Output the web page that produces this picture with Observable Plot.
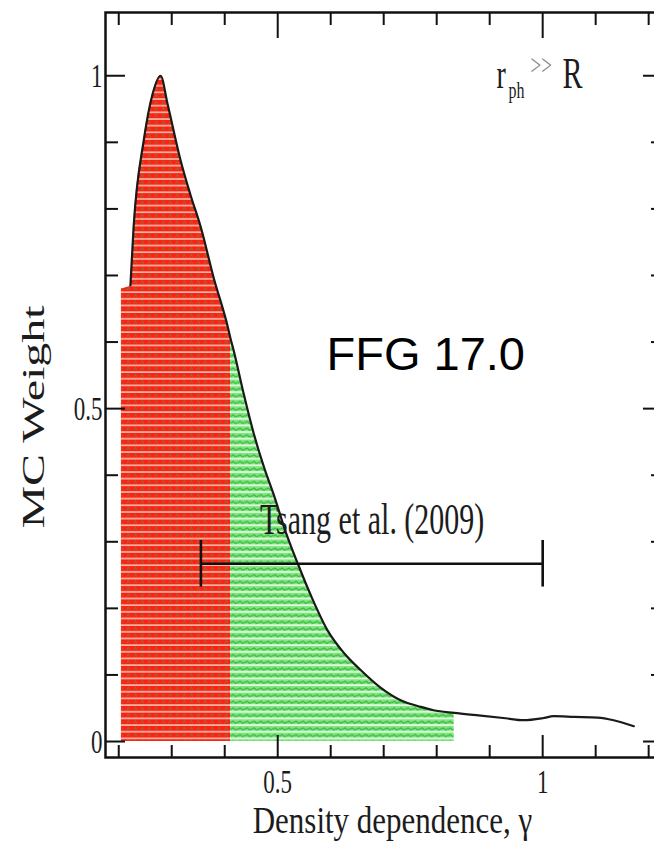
<!DOCTYPE html>
<html><head><meta charset="utf-8">
<script src="https://cdn.jsdelivr.net/npm/d3@7"></script>
<script src="https://cdn.jsdelivr.net/npm/@observablehq/plot@0.6"></script>
<style>html,body{margin:0;padding:0;background:#fff;} svg{display:block}</style>
</head><body><div id="chart"></div>
<script>
// Curve: MC weight vs density dependence gamma
const gammaValues  = [0.205, 0.222, 0.228, 0.247, 0.264, 0.279, 0.292, 0.317, 0.335, 0.355, 0.379, 0.406, 0.411, 0.417, 0.435, 0.455, 0.475, 0.492, 0.515, 0.538, 0.565, 0.594, 0.625, 0.657, 0.694, 0.732, 0.770, 0.794, 0.833, 0.883, 0.930, 0.964, 1.000, 1.021, 1.060, 1.104, 1.134, 1.172];
const weightValues = [0.680, 0.685, 0.772, 0.902, 0.973, 1.000, 0.958, 0.872, 0.822, 0.772, 0.697, 0.622, 0.605, 0.587, 0.525, 0.462, 0.410, 0.372, 0.315, 0.267, 0.215, 0.167, 0.133, 0.107, 0.081, 0.062, 0.052, 0.047, 0.043, 0.039, 0.035, 0.032, 0.035, 0.038, 0.037, 0.036, 0.032, 0.023];
const lineStart = 0.222;
const redEnd = 0.411;
const greenEnd = 0.833;

// Tsang et al. (2009) constraint
const tsangLabel = "Tsang et al. (2009)";
const tsangLow = 0.355;
const tsangHigh = 1.0;
const tsangWeight = 0.267;
const tsangCapHalf = 0.035;

// Axes
const xMajorTicks = [0.5, 1];
const xTickLabels = ["0.5", "1"];
const xMinorTicks = [0.2, 0.3, 0.4, 0.6, 0.7, 0.8, 0.9, 1.1, 1.2];
const yMajorTicks = [0, 0.5, 1];
const yTickLabels = ["0", "0.5", "1"];
const yMinorTicks = [0.1, 0.2, 0.3, 0.4, 0.6, 0.7, 0.8, 0.9];
const xTitle = "Density dependence, \u03b3";
const yTitle = "MC Weight";
const annotation = "FFG 17.0";

const curve = gammaValues.map((g, i) => ({g, w: weightValues[i]}));
const redData = curve.filter(d => d.g <= redEnd);
const greenData = curve.filter(d => d.g >= redEnd && d.g <= greenEnd);
const lineData = curve.filter(d => d.g >= lineStart);

const W = 558, H = 745;
const serif = {fontFamily: "Liberation Serif", fill: "#1c1c1c"};
const ink = "#111";

const svg = Plot.plot({
  width: 654, height: 846,
  marginLeft: 105, marginRight: -9, marginTop: 12, marginBottom: 89,
  x: {domain: [0.175, 1.228], axis: null},
  y: {domain: [-0.024, 1.095], axis: null},
  style: {background: "white", fontFamily: "Liberation Serif"},
  marks: [
    Plot.areaY(redData, {x: "g", y: "w", fill: "url(#redHatch)", curve: "monotone-x"}),
    Plot.areaY(greenData, {x: "g", y: "w", fill: "url(#greenHatch)", curve: "monotone-x"}),
    // ticks (inward)
    Plot.ruleX(xMinorTicks, {insetTop: H - 12, stroke: ink, strokeWidth: 2}),
    Plot.ruleX(xMajorTicks, {insetTop: H - 22, stroke: ink, strokeWidth: 2}),
    Plot.ruleX(xMinorTicks, {insetBottom: H - 13, stroke: ink, strokeWidth: 2}),
    Plot.ruleX(xMajorTicks, {insetBottom: H - 26, stroke: ink, strokeWidth: 2}),
    Plot.ruleY(yMinorTicks, {insetRight: W - 13, stroke: ink, strokeWidth: 2}),
    Plot.ruleY(yMajorTicks, {insetRight: W - 20, stroke: ink, strokeWidth: 2}),
    Plot.ruleY(yMinorTicks, {insetLeft: W - 12, stroke: ink, strokeWidth: 2}),
    Plot.ruleY(yMajorTicks, {insetLeft: W - 20, stroke: ink, strokeWidth: 2}),
    Plot.frame({stroke: ink, strokeWidth: 2.5}),
    // curve
    Plot.line(lineData, {x: "g", y: "w", stroke: "#1a1a1a", strokeWidth: 2.2, curve: "monotone-x"}),
    // Tsang error bar
    Plot.ruleY([tsangWeight], {x1: tsangLow, x2: tsangHigh, y: d => d, stroke: ink, strokeWidth: 2.6}),
    Plot.ruleX([tsangLow, tsangHigh], {x: d => d, y1: tsangWeight - tsangCapHalf, y2: tsangWeight + tsangCapHalf, stroke: ink, strokeWidth: 2.6}),
    Plot.text([tsangLabel], {x: tsangLow, y: tsangWeight, text: d => d, dx: 59, dy: -30, textAnchor: "start", lineAnchor: "bottom", fontSize: 30, ...serif}),
    // tick labels
    Plot.text(xMajorTicks, {x: d => d, text: (d, i) => xTickLabels[i], frameAnchor: "bottom", dy: 35, textAnchor: "middle", lineAnchor: "bottom", fontSize: 23, ...serif}),
    Plot.text(yMajorTicks, {y: d => d, text: (d, i) => yTickLabels[i], frameAnchor: "left", dx: -3, dy: 11, textAnchor: "end", lineAnchor: "bottom", fontSize: 23, ...serif}),
    // axis titles
    Plot.text([xTitle], {text: d => d, frameAnchor: "bottom", dx: 8, dy: 75, textAnchor: "middle", lineAnchor: "bottom", fontSize: 31, ...serif}),
    Plot.text([yTitle], {text: d => d, frameAnchor: "left", dx: -62, dy: 32, rotate: -90, textAnchor: "middle", lineAnchor: "bottom", fontSize: 32, ...serif}),
    // r_ph >> R
    Plot.text(["r"], {text: d => d, frameAnchor: "top-left", dx: 391, dy: 75, textAnchor: "start", lineAnchor: "bottom", fontSize: 28, ...serif}),
    Plot.text(["ph"], {text: d => d, frameAnchor: "top-left", dx: 403, dy: 85, textAnchor: "start", lineAnchor: "bottom", fontSize: 16, ...serif}),
    Plot.text([">>"], {text: d => d, frameAnchor: "top-left", dx: 425, dy: 62, textAnchor: "start", lineAnchor: "bottom", fontSize: 19, fontFamily: "Liberation Serif", fill: "#8a8a8a"}),
    Plot.text(["R"], {text: d => d, frameAnchor: "top-left", dx: 457, dy: 75, textAnchor: "start", lineAnchor: "bottom", fontSize: 30, ...serif}),
    // overlay annotation
    Plot.text([annotation], {text: d => d, frameAnchor: "top-left", dx: 221, dy: 357, textAnchor: "start", lineAnchor: "bottom", fontSize: 47, fontFamily: "Liberation Sans", fill: "#000"})
  ]
});

document.getElementById("chart").append(svg);

// hatch patterns for the shaded regions
const ns = "http://www.w3.org/2000/svg";
const defs = document.createElementNS(ns, "defs");
defs.innerHTML = `
<pattern id="redHatch" patternUnits="userSpaceOnUse" width="7" height="6.66">
  <rect width="7" height="6.66" fill="#ff1f14"/>
  <line x1="0" y1="5.8" x2="7" y2="5.8" stroke="#ffc8bc" stroke-width="1.5"/>
  <path d="M0.6,4 L2.3,1.2 L4,4" stroke="#9a6a2a" stroke-width="1.1" fill="none"/>
</pattern>
<pattern id="greenHatch" patternUnits="userSpaceOnUse" width="7" height="6.66">
  <rect width="7" height="6.66" fill="#84e481"/>
  <line x1="0" y1="5.8" x2="7" y2="5.8" stroke="#effff0" stroke-width="1.5"/>
  <path d="M0.4,3.6 Q1.8,0.8 3.4,3 T6.6,2.4" stroke="#2db838" stroke-width="1.1" fill="none"/>
</pattern>`;
svg.insertBefore(defs, svg.firstChild);

// the source's serif lettering is tall and narrow: stretch it vertically
svg.querySelectorAll('g[font-family="Liberation Serif"]').forEach(g => {
  const k = g.getAttribute("font-size") === "31" ? 1.25 : 1.5;
  g.querySelectorAll("text").forEach(t => {
    const tr = t.getAttribute("transform");
    if (tr) {
      t.setAttribute("transform", tr + (tr.includes("rotate") ? ` scale(${k},1)` : ` scale(1,${k})`));
    } else {
      const x = +t.getAttribute("x") || 0, y = +t.getAttribute("y") || 0;
      t.setAttribute("transform", `translate(${x},${y}) scale(1,${k}) translate(${-x},${-y})`);
    }
  });
});
</script>
</body></html>
